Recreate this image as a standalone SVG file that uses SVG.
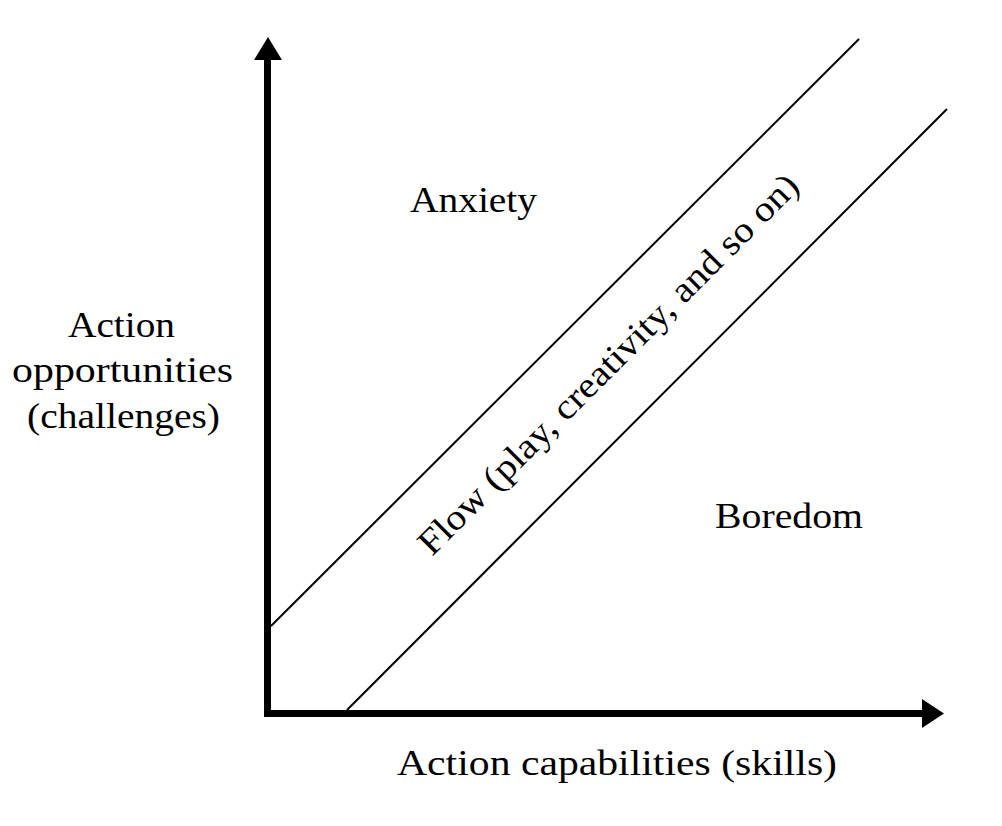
<svg xmlns="http://www.w3.org/2000/svg" width="1002" height="826" viewBox="0 0 1002 826">
<style>
.lbl{font-family:"Liberation Serif","Times New Roman",serif;font-size:36px;fill:#000}
.axis{fill:none;stroke:#000;stroke-width:7;stroke-linejoin:miter}
.diag{fill:none;stroke:#000;stroke-width:2}
.head{fill:#000}
</style>
<rect width="1002" height="826" fill="#fff"/>
<g id="connectors">
<path class="axis" d="M267.5,60 V713.5 H922"/>
<polygon class="head" points="254,60 268,37 282,60"/>
<polygon class="head" points="922,699 944,713.5 922,728"/>
<line class="diag" x1="271" y1="626" x2="859" y2="39"/>
<line class="diag" x1="347" y1="710" x2="947" y2="109"/>
</g>
<g id="anxiety"><text class="lbl" x="410" y="212" textLength="127" lengthAdjust="spacingAndGlyphs">Anxiety</text></g>
<g id="boredom"><text class="lbl" x="715" y="528" textLength="148" lengthAdjust="spacingAndGlyphs">Boredom</text></g>
<g id="y-label">
<text class="lbl" x="68" y="337" textLength="107" lengthAdjust="spacingAndGlyphs">Action</text>
<text class="lbl" x="12" y="382" textLength="221" lengthAdjust="spacingAndGlyphs">opportunities</text>
<text class="lbl" x="27" y="428" textLength="193" lengthAdjust="spacingAndGlyphs">(challenges)</text>
</g>
<g id="x-label"><text class="lbl" x="397" y="775" textLength="440" lengthAdjust="spacingAndGlyphs">Action capabilities (skills)</text></g>
<g id="flow"><text class="lbl" x="616.5" y="372.5" text-anchor="middle" textLength="522" lengthAdjust="spacingAndGlyphs" transform="rotate(-45 616.5 372.5)">Flow (play, creativity, and so on)</text></g>
</svg>
